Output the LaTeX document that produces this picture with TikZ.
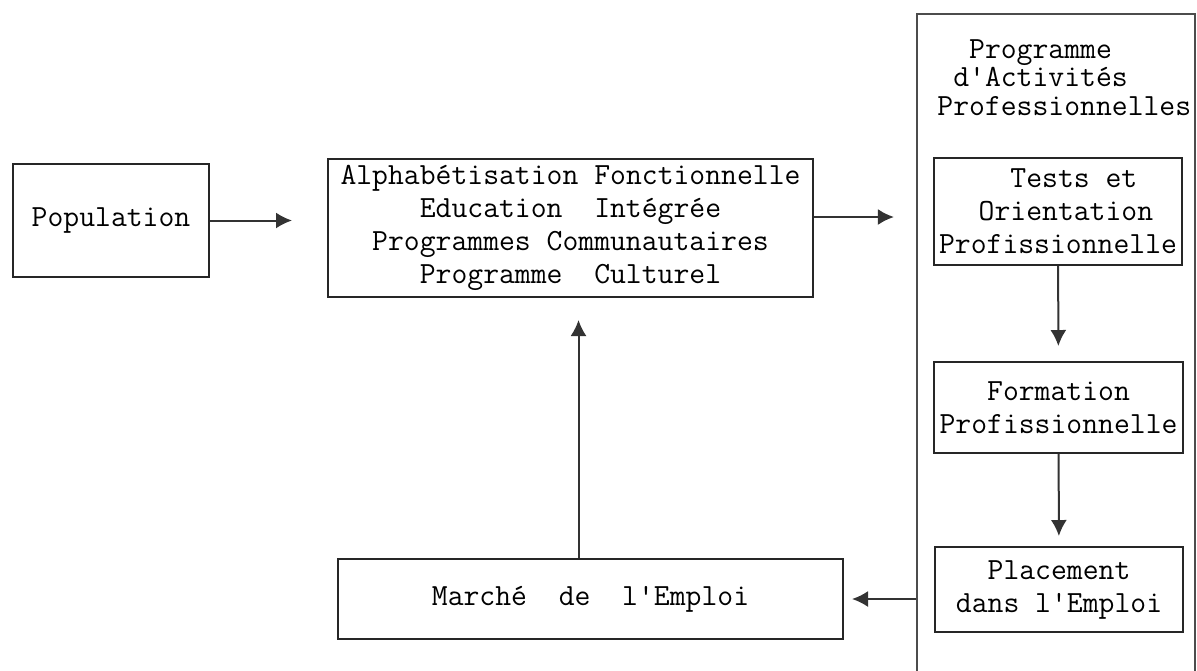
\documentclass[tikz,border=0pt]{standalone}
\usepackage{fontspec}
\usetikzlibrary{arrows.meta}

\begin{document}
\begin{tikzpicture}[x=0.5pt, y=-0.5pt,
            boite/.style={draw=black!85, line width=1pt, inner sep=0pt, align=center,
                font=\ttfamily\fontsize{15.4}{16.5}\selectfont},
            cadre/.style={draw=black!70, line width=1.1pt, inner sep=0pt},
            titre/.style={inner sep=0pt, align=left, font=\ttfamily\fontsize{15.4}{14.25}\selectfont},
            fleche/.style={draw=black!80, line width=1pt, -{Latex[length=8pt, width=8pt]}},
        ]
        \useasboundingbox (0,0) rectangle (1197,670);
        \clip (0,0) rectangle (1197,670);

        \node[boite, minimum width=98pt, minimum height=56.5pt] (pop) at (111, 220.5) {Population};
        \node[boite, minimum width=242.5pt, minimum height=69pt] (alpha) at (570.5, 228)
            {Alphabétisation Fonctionnelle\\Education\ \ Intégrée\\Programmes Communautaires\\Programme\ \ Culturel};
        \node[cadre, minimum width=139pt, minimum height=343pt] (prog) at (1056, 357) {};
        \node[titre, anchor=north west] (titre) at (937, 39) {\ \ Programme\\\ d'Activités\\Professionnelles};
        \node[boite, minimum width=124pt, minimum height=53.5pt] (tests) at (1058, 211.5)
            {\ \ Tests et\\\ Orientation\\Profissionnelle};
        \node[boite, minimum width=124.5pt, minimum height=45.5pt] (form) at (1058.5, 407.5)
            {Formation\\Profissionnelle};
        \node[boite, minimum width=124pt, minimum height=42.5pt] (place) at (1059, 589.5)
            {Placement\\dans l'Emploi};
        \node[boite, minimum width=252.5pt, minimum height=40pt] (marche) at (590.5, 599)
            {Marché\ \ de\ \ l'Emploi};

        \draw[fleche, shorten >=17.5pt] (pop) -- (pop -| alpha.west);
        \draw[fleche, shorten >=11pt] ([yshift=5.5pt]alpha.east) -- ([yshift=5.5pt]alpha.east -| prog.west);
        \draw[fleche, shorten >=7.5pt] (tests) -- (form);
        \draw[fleche, shorten >=5pt] (form) -- (place);
        \draw[fleche, shorten >=4pt] (prog.west |- marche.east) -- (marche.east);
        \draw[fleche, shorten >=11pt] ([xshift=-6pt]marche.north) -- ([xshift=-6pt]marche.north |- alpha.south);

    \end{tikzpicture}
\end{document}
